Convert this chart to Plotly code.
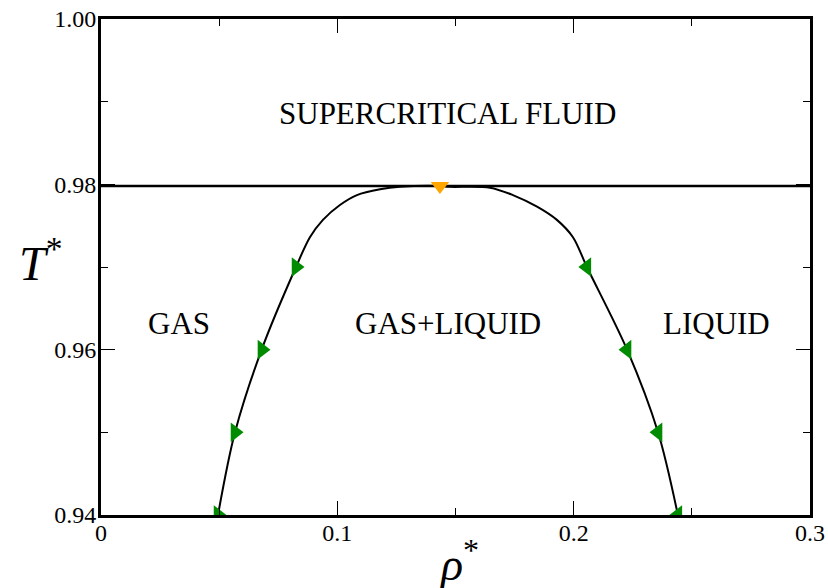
import plotly.graph_objects as go

# Coexistence curve
curve_rho = [0.0495, 0.0567, 0.0681, 0.0825, 0.0884, 0.0939, 0.1011, 0.1083, 0.1181, 0.1265, 0.1434,
             0.1477, 0.1646, 0.1743, 0.1845, 0.1929, 0.1997, 0.2056, 0.2226, 0.2357, 0.2441]
curve_T = [0.9400, 0.9500, 0.9601, 0.9700, 0.9736, 0.9757, 0.9775, 0.9787, 0.9794, 0.9797, 0.9798,
           0.9797, 0.9796, 0.9787, 0.9773, 0.9757, 0.9736, 0.9700, 0.9600, 0.9500, 0.9400]

# Gas branch simulation points
gas_rho = [0.0495, 0.0567, 0.0681, 0.0825]
gas_T = [0.94, 0.95, 0.96, 0.97]
# Liquid branch simulation points
liq_rho = [0.2056, 0.2226, 0.2357, 0.2441]
liq_T = [0.97, 0.96, 0.95, 0.94]
# Critical point
crit_rho = [0.1434]
crit_T = [0.9798]
Tc = 0.9798

region_labels = ["SUPERCRITICAL FLUID", "GAS", "GAS+LIQUID", "LIQUID"]
region_x = [0.1468, 0.0330, 0.1468, 0.2603]
region_y = [0.9886, 0.9632, 0.9632, 0.9632]

x_range = [0, 0.3]
y_range = [0.94, 1.00]

SERIF = "Liberation Serif"

fig = go.Figure()
fig.add_trace(go.Scatter(x=x_range, y=[Tc, Tc], mode="lines",
                         line=dict(color="black", width=2.5), hoverinfo="skip"))
fig.add_trace(go.Scatter(x=curve_rho, y=curve_T, mode="lines",
                         line=dict(color="black", width=2, shape="spline", smoothing=0.9)))
fig.add_trace(go.Scatter(x=gas_rho, y=gas_T, mode="markers",
                         marker=dict(symbol="triangle-right", size=17, color="#008b00")))
fig.add_trace(go.Scatter(x=liq_rho, y=liq_T, mode="markers",
                         marker=dict(symbol="triangle-left", size=17, color="#008b00")))
fig.add_trace(go.Scatter(x=crit_rho, y=crit_T, mode="markers",
                         marker=dict(symbol="triangle-down", size=16, color="#ffa500")))

for t, xx, yy in zip(region_labels, region_x, region_y):
    fig.add_annotation(x=xx, y=yy, text=t, showarrow=False,
                       font=dict(family=SERIF, size=31, color="black"))

fig.add_annotation(xref="paper", yref="paper", x=-0.118, y=0.515, text="<i>T</i><sup>*</sup>",
                   showarrow=False, font=dict(family=SERIF, size=48, color="black"))
fig.add_annotation(xref="paper", yref="paper", x=0.505, y=-0.093, yanchor="middle",
                   text="<i>ρ</i><sup>*</sup>",
                   showarrow=False, font=dict(family=SERIF, size=46, color="black"))

axis_common = dict(showgrid=False, zeroline=False, showline=True, linecolor="black", linewidth=3,
                   mirror="allticks", ticks="inside", ticklen=14, tickwidth=1, tickcolor="black",
                   automargin=False,
                   tickfont=dict(family=SERIF, size=24, color="black"))

fig.update_xaxes(range=x_range, tickvals=[0, 0.1, 0.2, 0.3], ticktext=["0", "0.1", "0.2", "0.3"],
                 minor=dict(ticks="inside", ticklen=7, tickwidth=1, tickcolor="black", dtick=0.05, tick0=0),
                 ticklabelstandoff=-6, **axis_common)
fig.update_yaxes(range=y_range, tickvals=[0.94, 0.96, 0.98, 1.00],
                 ticktext=["0.94", "0.96", "0.98", "1.00"],
                 minor=dict(ticks="inside", ticklen=7, tickwidth=1, tickcolor="black", dtick=0.01, tick0=0.94),
                 ticklabelstandoff=-3, **axis_common)

fig.update_layout(width=828, height=588, margin=dict(l=101, r=18, t=19, b=73),
                  font=dict(family=SERIF, color="black"),
                  paper_bgcolor="white", plot_bgcolor="white", showlegend=False)

fig.write_html("out.html")
